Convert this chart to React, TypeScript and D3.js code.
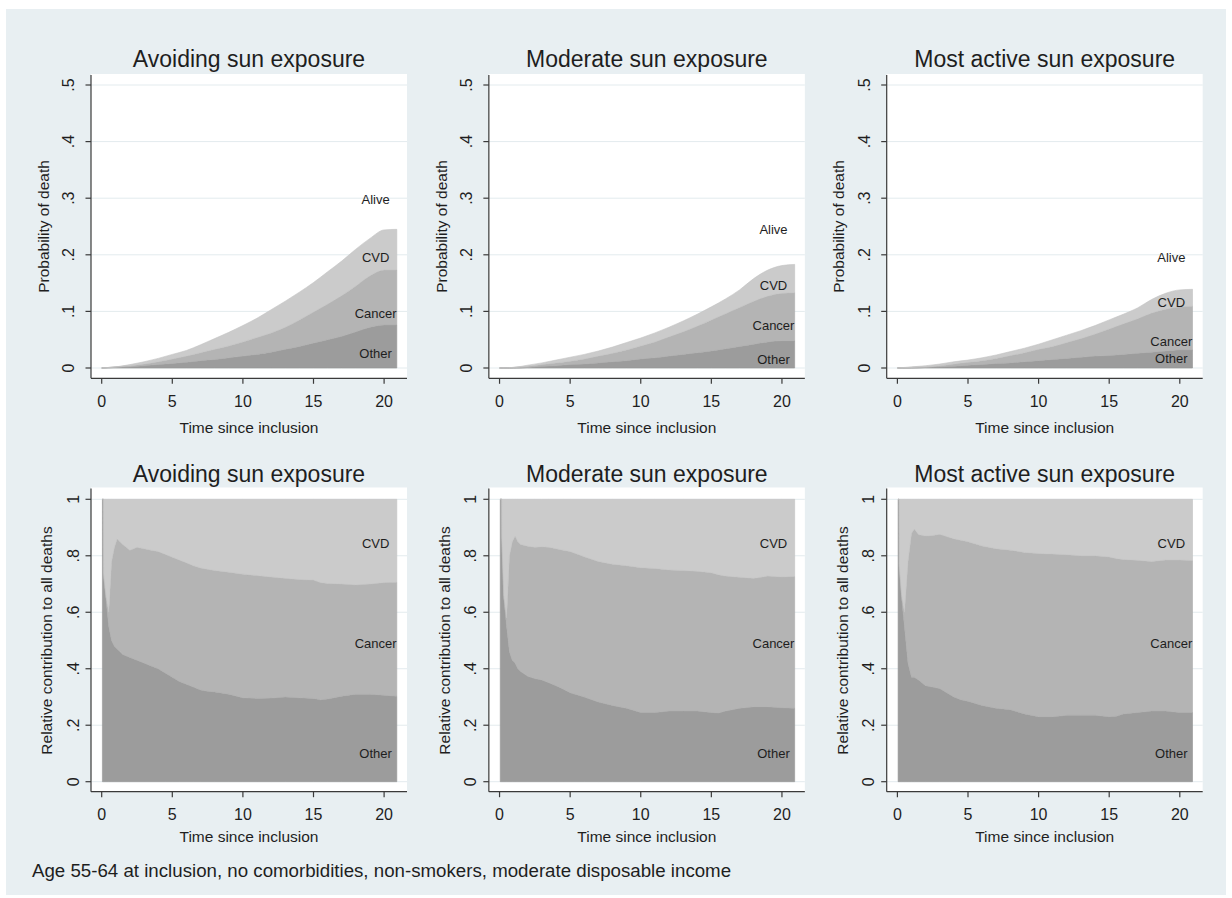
import React from 'react';
import * as d3 from 'd3';

const panelTitles = ['Avoiding sun exposure', 'Moderate sun exposure', 'Most active sun exposure'];
const xTicks = [0, 5, 10, 15, 20];
const topYTicks = [0, 0.1, 0.2, 0.3, 0.4, 0.5];
const topYTickLabels = ['0', '.1', '.2', '.3', '.4', '.5'];
const bottomYTicks = [0, 0.2, 0.4, 0.6, 0.8, 1];
const bottomYTickLabels = ['0', '.2', '.4', '.6', '.8', '1'];
const topYTitle = 'Probability of death';
const bottomYTitle = 'Relative contribution to all deaths';
const xTitle = 'Time since inclusion';
const footnote = 'Age 55-64 at inclusion, no comorbidities, non-smokers, moderate disposable income';

// Top row: cumulative probability of death (stacked boundaries)
const topTime = [0, 1, 2, 3, 4, 5, 6, 7, 8, 9, 10, 11, 12, 13, 14, 15, 16, 17, 18, 19, 20, 20.9];
// Avoiding
const avoidOtherCum = [0, 0.001, 0.002, 0.004, 0.006, 0.008, 0.010, 0.013, 0.015, 0.018, 0.021, 0.024, 0.028, 0.033, 0.038, 0.044, 0.050, 0.056, 0.064, 0.072, 0.076, 0.076];
const avoidCancerCum = [0, 0.002, 0.004, 0.007, 0.011, 0.016, 0.021, 0.027, 0.033, 0.039, 0.046, 0.054, 0.062, 0.072, 0.085, 0.099, 0.113, 0.128, 0.145, 0.163, 0.173, 0.173];
const avoidTotalCum = [0, 0.002, 0.006, 0.011, 0.017, 0.024, 0.031, 0.041, 0.052, 0.063, 0.075, 0.088, 0.103, 0.118, 0.134, 0.151, 0.170, 0.189, 0.210, 0.229, 0.244, 0.245];
// Moderate
const modOtherCum = [0, 0.000, 0.001, 0.003, 0.004, 0.006, 0.007, 0.009, 0.011, 0.013, 0.016, 0.018, 0.021, 0.024, 0.027, 0.030, 0.034, 0.038, 0.042, 0.046, 0.048, 0.048];
const modCancerCum = [0, 0.001, 0.003, 0.006, 0.009, 0.012, 0.016, 0.021, 0.026, 0.032, 0.039, 0.046, 0.055, 0.064, 0.074, 0.085, 0.096, 0.107, 0.118, 0.127, 0.132, 0.133];
const modTotalCum = [0, 0.001, 0.005, 0.009, 0.014, 0.019, 0.024, 0.030, 0.037, 0.045, 0.053, 0.062, 0.072, 0.083, 0.095, 0.108, 0.122, 0.138, 0.158, 0.173, 0.181, 0.183];
// Most active
const actOtherCum = [0, 0.000, 0.001, 0.002, 0.003, 0.005, 0.006, 0.008, 0.009, 0.011, 0.013, 0.015, 0.017, 0.019, 0.021, 0.022, 0.024, 0.026, 0.028, 0.030, 0.032, 0.032];
const actCancerCum = [0, 0.001, 0.002, 0.004, 0.007, 0.010, 0.013, 0.017, 0.022, 0.027, 0.033, 0.038, 0.045, 0.052, 0.060, 0.069, 0.078, 0.087, 0.097, 0.104, 0.108, 0.109];
const actTotalCum = [0, 0.002, 0.004, 0.007, 0.011, 0.014, 0.018, 0.023, 0.029, 0.035, 0.042, 0.050, 0.058, 0.066, 0.075, 0.085, 0.095, 0.106, 0.121, 0.132, 0.138, 0.139];

// Bottom row: relative contribution (stacked boundaries, total = 1)
const avoidRelTime = [0.05, 0.12, 0.13, 0.3, 0.5, 0.7, 0.9, 1.1, 1.3, 1.5, 2, 2.5, 3, 3.5, 4, 4.5, 5, 5.5, 6, 6.5, 7, 7.5, 8, 9, 10, 11, 12, 13, 14, 15, 15.5, 16, 17, 18, 19, 20, 20.9];
const avoidRelOther = [1, 1, 0.73, 0.65, 0.55, 0.50, 0.48, 0.47, 0.46, 0.45, 0.44, 0.43, 0.42, 0.41, 0.40, 0.385, 0.37, 0.355, 0.345, 0.335, 0.325, 0.32, 0.318, 0.31, 0.297, 0.295, 0.296, 0.30, 0.297, 0.295, 0.29, 0.293, 0.303, 0.31, 0.31, 0.306, 0.303];
const avoidRelCancer = [1, 1, 0.74, 0.66, 0.60, 0.78, 0.83, 0.86, 0.85, 0.84, 0.82, 0.83, 0.825, 0.82, 0.815, 0.805, 0.795, 0.785, 0.775, 0.765, 0.757, 0.752, 0.748, 0.742, 0.735, 0.73, 0.725, 0.72, 0.716, 0.714, 0.705, 0.702, 0.70, 0.697, 0.70, 0.705, 0.706];

const modRelTime = [0.05, 0.15, 0.16, 0.3, 0.5, 0.7, 0.9, 1.1, 1.3, 1.5, 2, 2.5, 3, 3.5, 4, 4.5, 5, 6, 7, 8, 9, 10, 11, 12, 13, 14, 15, 15.5, 16, 17, 18, 19, 20, 20.9];
const modRelOther = [1, 1, 0.86, 0.65, 0.55, 0.46, 0.43, 0.42, 0.40, 0.39, 0.373, 0.365, 0.36, 0.35, 0.34, 0.328, 0.315, 0.30, 0.282, 0.27, 0.26, 0.245, 0.245, 0.25, 0.25, 0.25, 0.245, 0.243, 0.25, 0.26, 0.265, 0.265, 0.262, 0.26];
const modRelCancer = [1, 1, 0.87, 0.66, 0.58, 0.80, 0.85, 0.87, 0.85, 0.84, 0.834, 0.83, 0.832, 0.83, 0.825, 0.82, 0.815, 0.797, 0.78, 0.77, 0.765, 0.758, 0.755, 0.75, 0.748, 0.745, 0.74, 0.733, 0.728, 0.724, 0.72, 0.728, 0.725, 0.727];

const actRelTime = [0.05, 0.12, 0.13, 0.3, 0.5, 0.75, 1.0, 1.2, 1.5, 2, 2.5, 3, 3.5, 4, 4.5, 5, 6, 7, 8, 9, 10, 11, 12, 13, 14, 15, 15.5, 16, 17, 18, 19, 20, 20.9];
const actRelOther = [1, 1, 0.76, 0.65, 0.55, 0.42, 0.37, 0.37, 0.36, 0.34, 0.335, 0.33, 0.315, 0.30, 0.29, 0.285, 0.27, 0.26, 0.255, 0.24, 0.23, 0.23, 0.235, 0.235, 0.235, 0.23, 0.232, 0.24, 0.245, 0.25, 0.25, 0.245, 0.245];
const actRelCancer = [1, 1, 0.77, 0.66, 0.60, 0.78, 0.88, 0.895, 0.875, 0.87, 0.872, 0.876, 0.868, 0.86, 0.855, 0.85, 0.835, 0.825, 0.82, 0.812, 0.808, 0.806, 0.804, 0.80, 0.80, 0.796, 0.79, 0.787, 0.784, 0.78, 0.785, 0.785, 0.783];

// Label anchor values
const topLabelNames = ['Alive', 'CVD', 'Cancer', 'Other'];
const topLabelValues = [
  [0.297, 0.196, 0.097, 0.026],
  [0.245, 0.146, 0.075, 0.015],
  [0.195, 0.116, 0.047, 0.016],
];
const bottomLabelNames = ['CVD', 'Cancer', 'Other'];
const bottomLabelValues = [0.845, 0.49, 0.1];
const labelTime = 19.4;

const topPanels = [
  { time: topTime, b: [avoidOtherCum, avoidCancerCum, avoidTotalCum] },
  { time: topTime, b: [modOtherCum, modCancerCum, modTotalCum] },
  { time: topTime, b: [actOtherCum, actCancerCum, actTotalCum] },
];
const bottomPanels = [
  { time: avoidRelTime, b: [avoidRelOther, avoidRelCancer] },
  { time: modRelTime, b: [modRelOther, modRelCancer] },
  { time: actRelTime, b: [actRelOther, actRelCancer] },
];

const fills = ['#9c9c9c', '#b4b4b4', '#cbcbcb'];
const strokes = ['#959595', '#acacac', '#c2c2c2'];
const BG = '#e8eff2';
const GRID = '#e3ebee';
const AXIS = '#3a3a3a';
const TXT = '#1e1e1e';
const FONT = 'Liberation Sans, Arial, Helvetica, sans-serif';

function Panel({ col, row }: { col: number; row: number }) {
  const left = 91 + col * 397.85;
  const regionW = 316;
  const x0 = left + 10.7;
  const x = d3.scaleLinear().domain([0, 20]).range([x0, x0 + 282.4]);
  const isTop = row === 0;
  const y = isTop
    ? d3.scaleLinear().domain([0, 0.5]).range([368, 85])
    : d3.scaleLinear().domain([0, 1]).range([781.7, 499.3]);
  const regionTop = isTop ? 74 : 487.5;
  const axisY = isTop ? 378.3 : 791.7;
  const yTicks = isTop ? topYTicks : bottomYTicks;
  const yLabels = isTop ? topYTickLabels : bottomYTickLabels;
  const titleY = isTop ? 67 : 481.5;
  const tickLabelY = isTop ? 407.3 : 820;
  const xTitleY = isTop ? 433.3 : 841.7;
  const yTickLabelX = left + (isTop ? -17 : -12.5);
  const yTitleX = left + (isTop ? -47.7 : -44);
  const yMid = (y.range()[0] + y.range()[1]) / 2;

  let bands: { time: number[]; lo: number[]; hi: number[] }[] = [];
  if (isTop) {
    const p = topPanels[col];
    const zeros = p.time.map(() => 0);
    bands = [
      { time: p.time, lo: zeros, hi: p.b[0] },
      { time: p.time, lo: p.b[0], hi: p.b[1] },
      { time: p.time, lo: p.b[1], hi: p.b[2] },
    ];
  } else {
    const p = bottomPanels[col];
    const zeros = p.time.map(() => 0);
    const ones = p.time.map(() => 1);
    bands = [
      { time: p.time, lo: zeros, hi: p.b[0] },
      { time: p.time, lo: p.b[0], hi: p.b[1] },
      { time: p.time, lo: p.b[1], hi: ones },
    ];
  }

  const paths = bands.map((band) => {
    const idx = band.time.map((_, i) => i);
    const area = d3
      .area<number>()
      .x((i) => x(band.time[i]))
      .y0((i) => y(band.lo[i]))
      .y1((i) => y(band.hi[i]))
      .curve(isTop ? d3.curveMonotoneX : d3.curveLinear);
    return area(idx) || '';
  });

  const labelNames = isTop ? topLabelNames : bottomLabelNames;
  const labelVals = isTop ? topLabelValues[col] : bottomLabelValues;

  return (
    <g>
      <rect x={left} y={regionTop} width={regionW} height={axisY - regionTop} fill="#ffffff" />
      {yTicks.map((t) => (
        <line key={'g' + t} x1={left} x2={left + regionW} y1={y(t)} y2={y(t)} stroke={GRID} strokeWidth={1} />
      ))}
      {paths.map((d, i) => (
        <path key={'a' + i} d={d} fill={fills[i]} stroke={strokes[i]} strokeWidth={0.6} />
      ))}
      {labelNames.map((n, i) => (
        <text key={'l' + n} x={x(labelTime)} y={y(labelVals[i])} dy="0.35em" textAnchor="middle" fontSize={13} fill={TXT} fontFamily={FONT}>
          {n}
        </text>
      ))}
      <line x1={left} x2={left} y1={regionTop + 1} y2={axisY} stroke={AXIS} strokeWidth={1.2} />
      <line x1={left} x2={left + regionW} y1={axisY} y2={axisY} stroke={AXIS} strokeWidth={1.2} />
      {xTicks.map((t) => (
        <g key={'xt' + t}>
          <line x1={x(t)} x2={x(t)} y1={axisY} y2={axisY + 5.5} stroke={AXIS} strokeWidth={1.2} />
          <text x={x(t)} y={tickLabelY} textAnchor="middle" fontSize={16} fill={TXT} fontFamily={FONT}>
            {t}
          </text>
        </g>
      ))}
      {yTicks.map((t, i) => (
        <g key={'yt' + t}>
          <line x1={left - 5.5} x2={left} y1={y(t)} y2={y(t)} stroke={AXIS} strokeWidth={1.2} />
          <text transform={`translate(${yTickLabelX},${y(t)}) rotate(-90)`} textAnchor="middle" fontSize={16} fill={TXT} fontFamily={FONT}>
            {yLabels[i]}
          </text>
        </g>
      ))}
      <text x={left + regionW / 2} y={titleY} textAnchor="middle" fontSize={23} fill={TXT} fontFamily={FONT}>
        {panelTitles[col]}
      </text>
      <text x={left + regionW / 2} y={xTitleY} textAnchor="middle" fontSize={15.5} fill={TXT} fontFamily={FONT}>
        {xTitle}
      </text>
      <text transform={`translate(${yTitleX},${yMid}) rotate(-90)`} dy="0.35em" textAnchor="middle" fontSize={15.5} fill={TXT} fontFamily={FONT}>
        {isTop ? topYTitle : bottomYTitle}
      </text>
    </g>
  );
}

export default function App() {
  return (
    <svg width={1232} height={898} style={{ position: 'absolute', left: 0, top: 0 }} xmlns="http://www.w3.org/2000/svg">
      <rect x={0} y={0} width={1232} height={898} fill="#ffffff" />
      <rect x={6} y={9} width={1220} height={886} fill={BG} />
      {[0, 1].map((row) => [0, 1, 2].map((col) => <Panel key={`${row}-${col}`} row={row} col={col} />))}
      <text x={32} y={877.3} fontSize={18.7} fill={TXT} fontFamily={FONT}>
        {footnote}
      </text>
    </svg>
  );
}
